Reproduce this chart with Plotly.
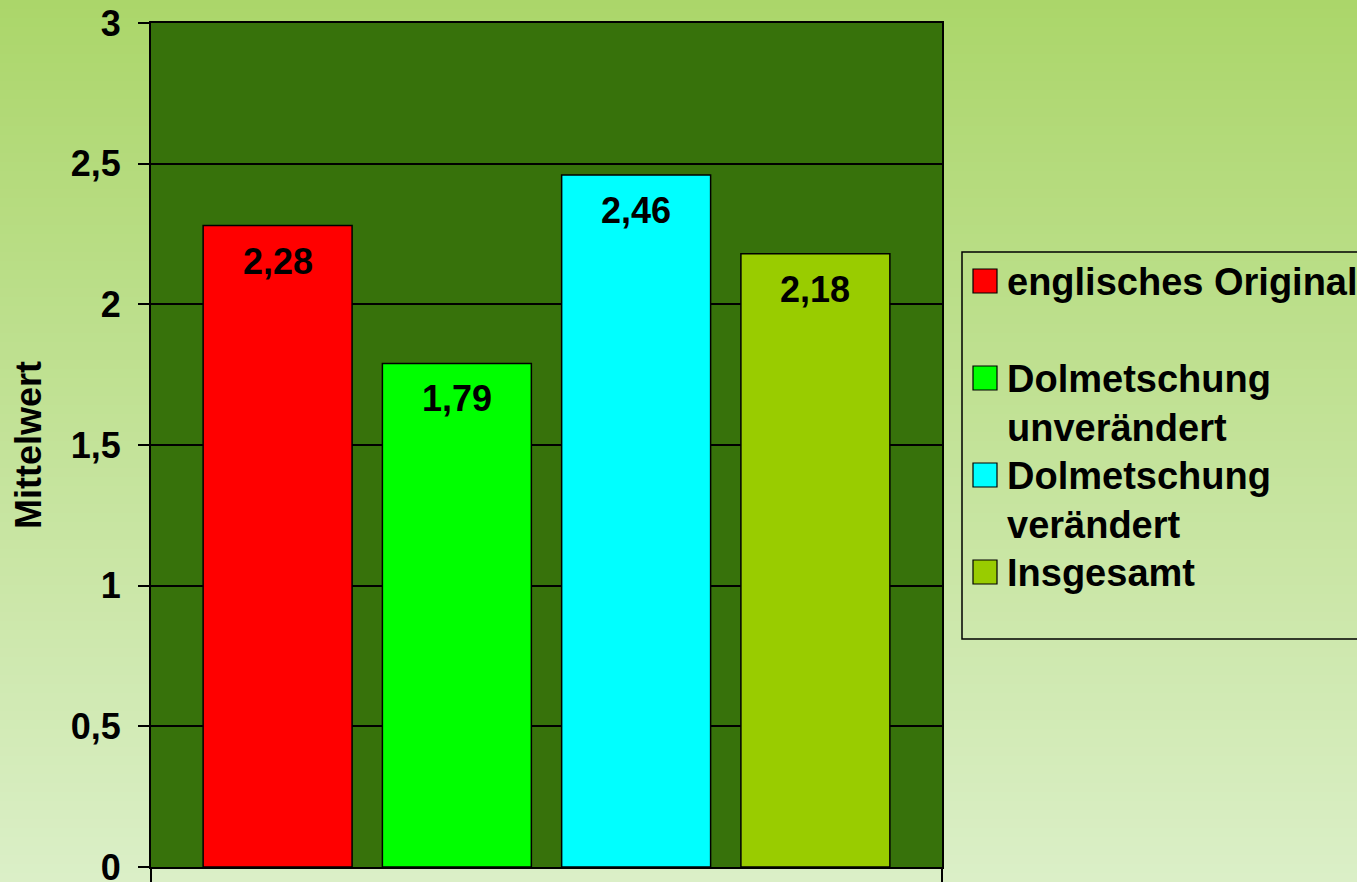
import plotly.graph_objects as go

# Mean ratings per group
series_names = ["englisches Original", "Dolmetschung unverändert",
                "Dolmetschung verändert", "Insgesamt"]
legend_labels = ["englisches Original", "Dolmetschung<br>unverändert",
                 "Dolmetschung<br>verändert", "Insgesamt"]
mean_values = [2.28, 1.79, 2.46, 2.18]
bar_colors = ["#FF0000", "#00FF00", "#00FFFF", "#99CC00"]
y_tick_values = [0, 0.5, 1, 1.5, 2, 2.5, 3]
y_axis_title = "Mittelwert"

# Canvas geometry (pixels)
W, H = 1357, 882
M_L, M_R, M_T, M_B = 151, 415, 23, 15
PW, PH = W - M_L - M_R, H - M_T - M_B

FONT = "Liberation Sans, Arial, sans-serif"
PLOT_BG = "#37720B"
BAR_GAP = 0.0935
BAR_GROUP_GAP = 0.169


def px_x(p):
    return (p - M_L) / PW


def px_y(p):
    return (H - M_B - p) / PH


def fmt_de(v):
    return f"{v:.2f}".replace(".", ",")


fig = go.Figure()
for name, val, col in zip(series_names, mean_values, bar_colors):
    fig.add_trace(go.Bar(
        x=[0], y=[val], name=name,
        marker=dict(color=col, line=dict(color="black", width=1.5)),
        showlegend=False, hoverinfo="name+y",
    ))

shapes = []
# vertical page gradient
top_rgb = (171, 214, 106)
bot_rgb = (219, 239, 199)
n_bands = 98
band = H / n_bands
for i in range(n_bands):
    t = (i + 0.5) / n_bands
    c = tuple(round(a + (b - a) * t) for a, b in zip(top_rgb, bot_rgb))
    shapes.append(dict(
        type="rect", xref="paper", yref="paper", layer="below",
        x0=px_x(-5), x1=px_x(W + 5),
        y0=px_y(i * band + band + 1), y1=px_y(i * band),
        fillcolor=f"rgb{c}", line=dict(width=0),
    ))
# plot area fill
shapes.append(dict(type="rect", xref="paper", yref="paper", layer="below",
                   x0=0, x1=1, y0=0, y1=1, fillcolor=PLOT_BG, line=dict(width=0)))

# legend box (runs off the right edge)
shapes.append(dict(type="rect", xref="paper", yref="paper",
                   x0=px_x(962), x1=px_x(W + 40), y0=px_y(639), y1=px_y(252),
                   fillcolor="rgba(0,0,0,0)", line=dict(color="black", width=1.5)))

annotations = []
row_start, row_step = 281, 97
for i, (lab, col) in enumerate(zip(legend_labels, bar_colors)):
    cy = row_start + row_step * i
    shapes.append(dict(type="rect", xref="paper", yref="paper",
                       x0=px_x(973), x1=px_x(997), y0=px_y(cy + 12), y1=px_y(cy - 12),
                       fillcolor=col, line=dict(color="black", width=1.2)))
    annotations.append(dict(
        text=lab, xref="paper", yref="paper", x=px_x(1005), y=px_y(cy - 22.5),
        xanchor="left", yanchor="top", align="left", showarrow=False,
        font=dict(family=FONT, size=38, color="black", weight="bold"),
    ))

# value labels just inside the top of each bar
slot = (1 - BAR_GAP) / len(mean_values)
for i, val in enumerate(mean_values):
    xc = -(1 - BAR_GAP) / 2 + slot * (i + 0.5)
    annotations.append(dict(
        text=fmt_de(val), x=xc, y=val, xref="x", yref="y",
        xanchor="center", yanchor="top", yshift=-13, showarrow=False,
        font=dict(family=FONT, size=36, color="black", weight="bold"),
    ))

fig.update_layout(
    width=W, height=H,
    margin=dict(l=M_L, r=M_R, t=M_T, b=M_B, autoexpand=False),
    paper_bgcolor="rgb(195,228,150)",
    plot_bgcolor="rgba(0,0,0,0)",
    barmode="group", bargap=BAR_GAP, bargroupgap=BAR_GROUP_GAP,
    separators=", ",
    showlegend=False,
    shapes=shapes, annotations=annotations,
    xaxis=dict(
        range=[-0.5, 0.5], tickmode="array", tickvals=[-0.5, 0.5],
        showticklabels=False, ticks="outside", ticklen=13, tickwidth=1.5,
        tickcolor="black", showgrid=False, zeroline=False,
        showline=True, linecolor="black", linewidth=2, mirror=True,
    ),
    yaxis=dict(
        range=[0, 3], tickmode="array", tickvals=y_tick_values,
        ticks="outside", ticklen=11, tickwidth=1.5, tickcolor="black",
        ticklabelstandoff=10, ticklabeloverflow="allow",
        tickfont=dict(family=FONT, size=36, color="black", weight="bold"),
        showgrid=True, gridcolor="black", gridwidth=1.5, zeroline=False,
        showline=True, linecolor="black", linewidth=2, mirror=True,
        title=dict(text=y_axis_title, standoff=18,
                   font=dict(family=FONT, size=36, color="black", weight="bold")),
    ),
)

fig.write_html("out.html")
